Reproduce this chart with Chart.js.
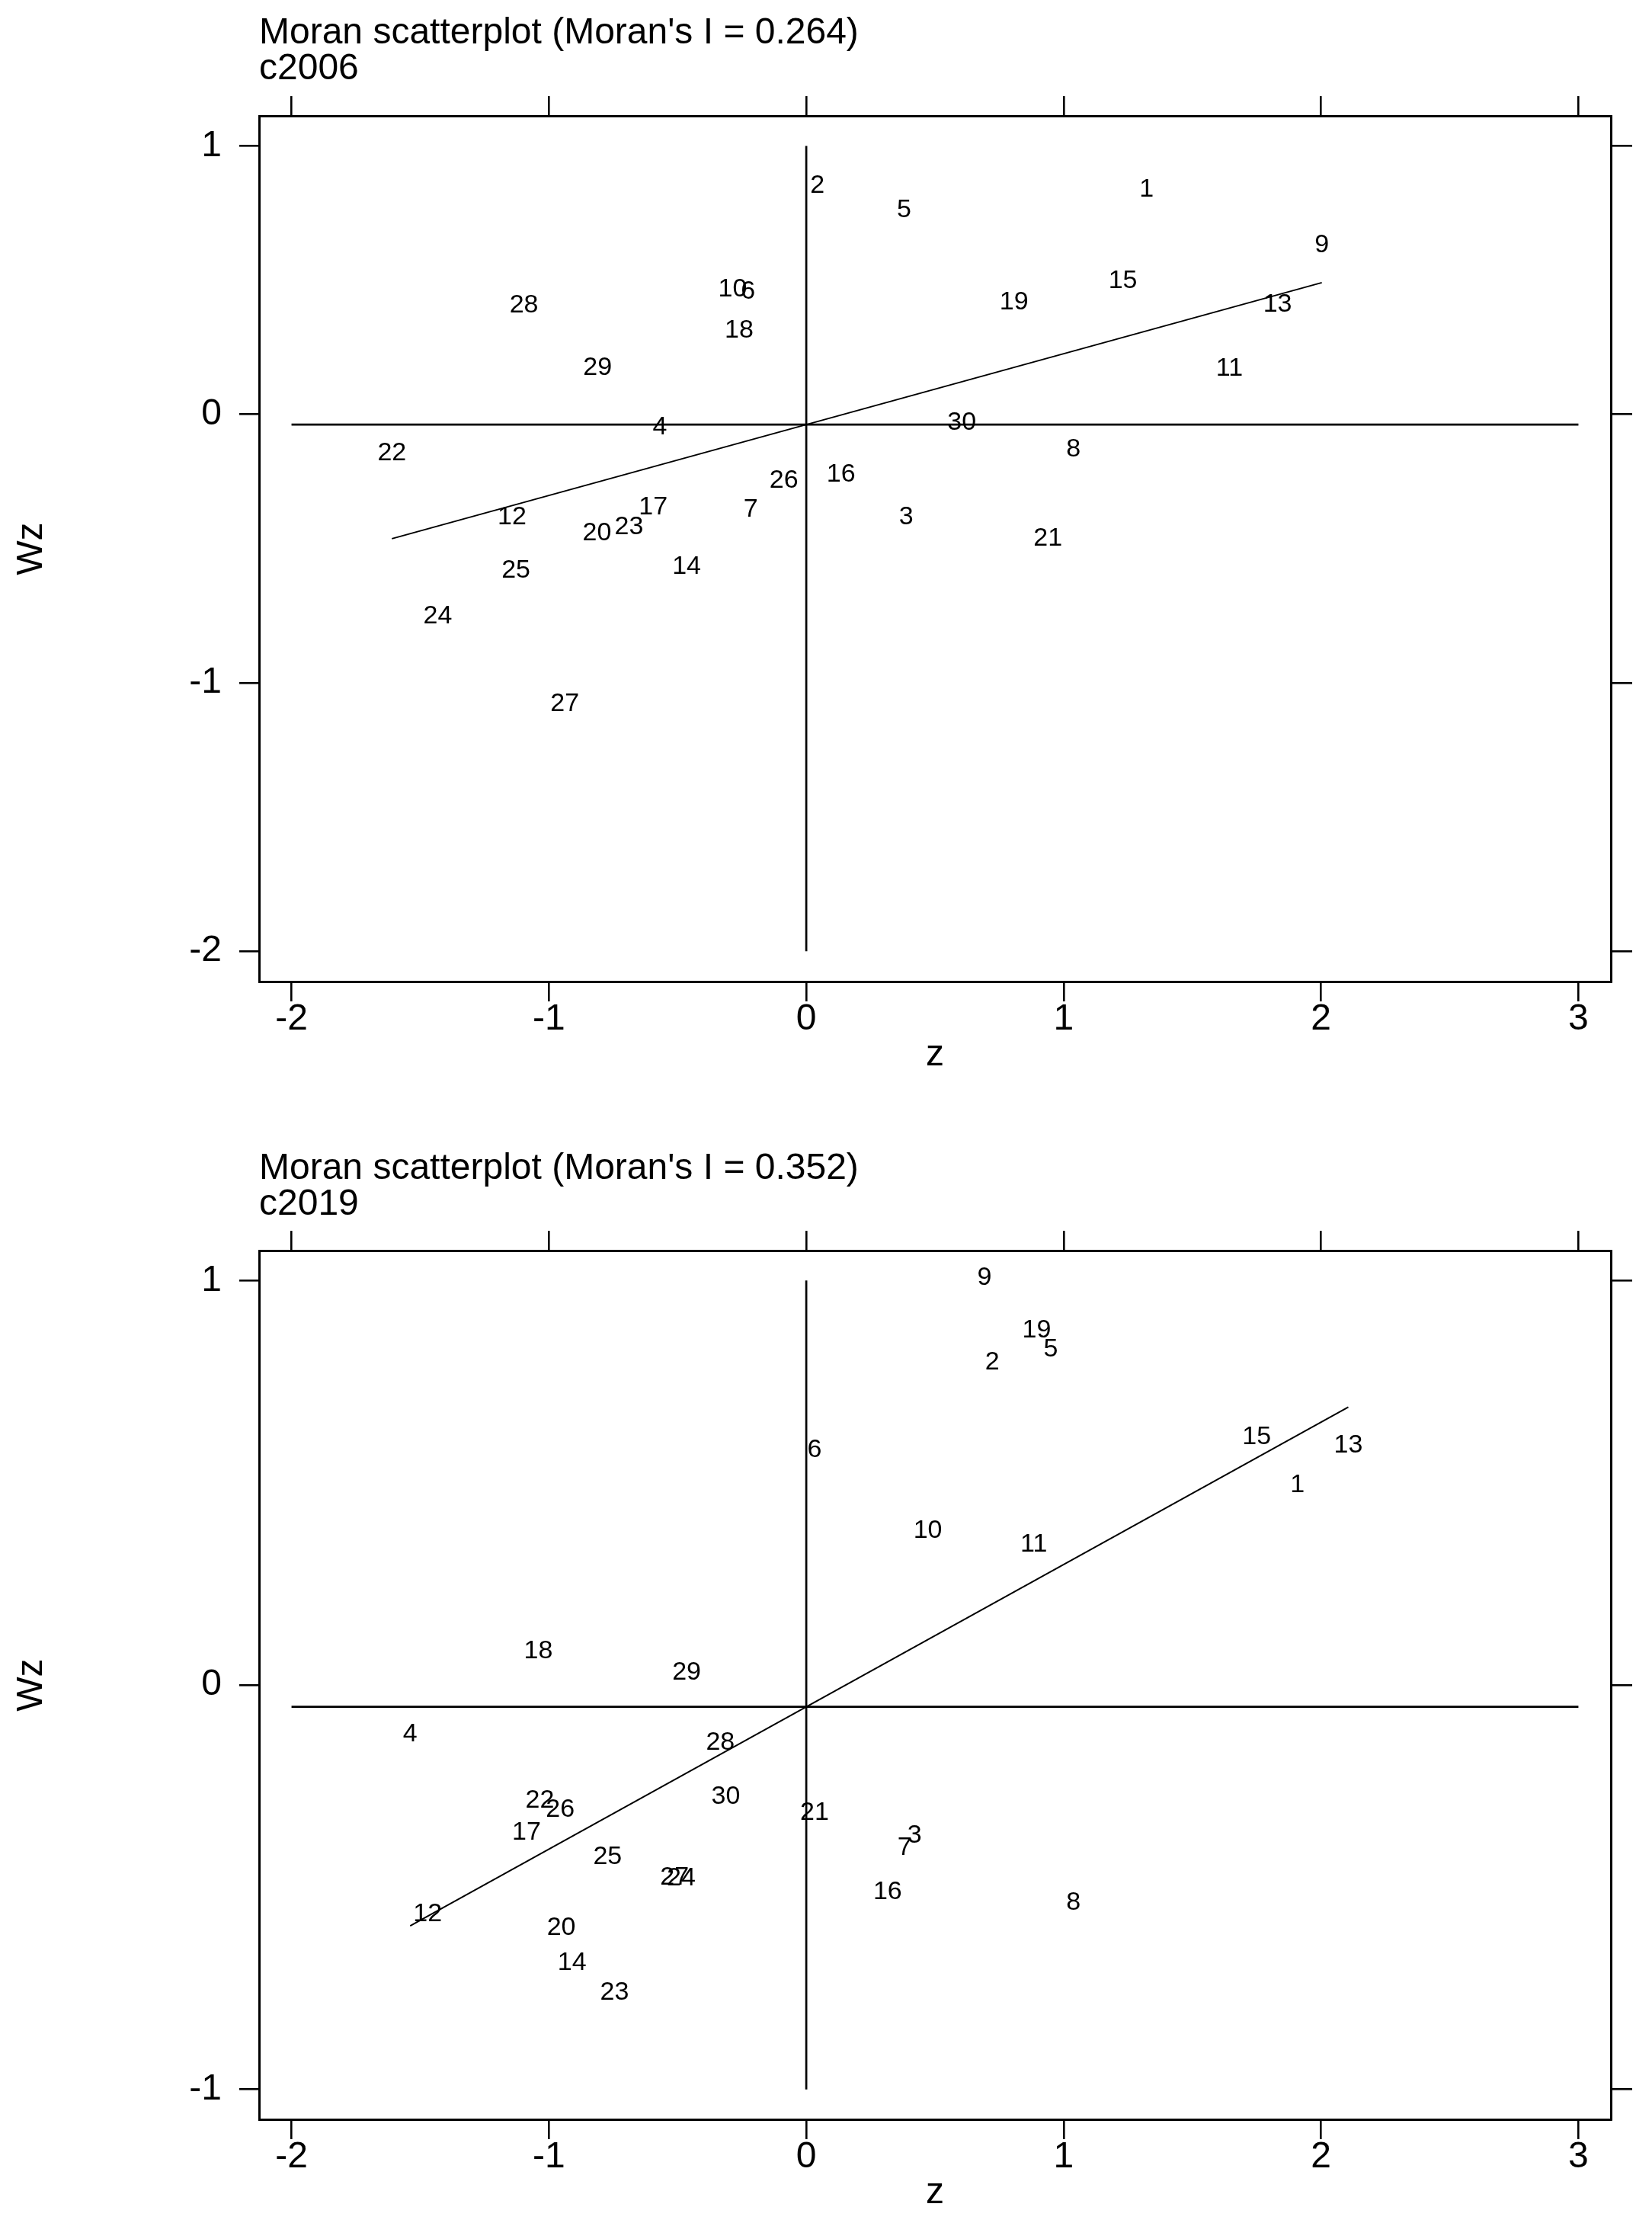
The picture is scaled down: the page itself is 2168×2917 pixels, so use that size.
<!DOCTYPE html>
<html>
<head>
<meta charset="utf-8">
<title>Moran scatterplots c2006 / c2019</title>
<script src="https://cdn.jsdelivr.net/npm/chart.js@4/dist/chart.umd.min.js"></script>
<style>
  html, body { margin: 0; padding: 0; background: #fff; }
  #wrap { position: relative; width: 2168px; height: 2917px; }
  .panel { position: absolute; left: 0; width: 2168px; }
  #p2006 { top: 0; height: 1488px; }
  #p2019 { top: 1488px; height: 1429px; }
</style>
</head>
<body>
<div id="wrap">
  <div class="panel" id="p2006"><canvas id="chart2006"></canvas></div>
  <div class="panel" id="p2019"><canvas id="chart2019"></canvas></div>
</div>
<script>
// ================================
// Datos
// ================================
const regionIds = ["1","2","3","4","5","6","7","8","9","10","11","12","13","14","15",
                   "16","17","18","19","20","21","22","23","24","25","26","27","28","29","30"];

// c2006
const z2006 = [1.322, 0.043, 0.388, -0.569, 0.380, -0.226, -0.216, 1.038, 2.003, -0.286,
               1.644, -1.143, 1.831, -0.465, 1.230, 0.135, -0.595, -0.261, 0.807, -0.813,
               0.939, -1.610, -0.689, -1.432, -1.128, -0.087, -0.938, -1.097, -0.811, 0.604];
const wz2006 = [0.808, 0.821, -0.414, -0.079, 0.729, 0.427, -0.385, -0.161, 0.598, 0.434,
                0.140, -0.414, 0.377, -0.598, 0.465, -0.256, -0.376, 0.282, 0.386, -0.474,
                -0.495, -0.177, -0.451, -0.784, -0.614, -0.278, -1.110, 0.374, 0.142, -0.063];
const moranI2006 = 0.264;
const wzMean2006 = -0.038;

// c2019
const z2019 = [1.908, 0.723, 0.421, -1.539, 0.950, 0.032, 0.382, 1.038, 0.692, 0.472,
               0.884, -1.471, 2.106, -0.910, 1.750, 0.316, -1.087, -1.041, 0.895, -0.952,
               0.032, -1.035, -0.745, -0.486, -0.772, -0.956, -0.512, -0.334, -0.465, -0.313];
const wz2019 = [0.473, 0.777, -0.393, -0.143, 0.810, 0.561, -0.423, -0.558, 0.986, 0.361,
                0.327, -0.587, 0.572, -0.707, 0.592, -0.532, -0.385, 0.063, 0.856, -0.621,
                -0.337, -0.307, -0.781, -0.499, -0.445, -0.329, -0.496, -0.163, 0.010, -0.297];
const moranI2019 = 0.352;
const wzMean2019 = -0.054;

const zMean = 0;
const xTicks = [-2, -1, 0, 1, 2, 3];
const yTicks2006 = [-2, -1, 0, 1];
const yTicks2019 = [-1, 0, 1];

// ================================
// Estilo
// ================================
const FONT = "'Liberation Sans', Arial, Helvetica, sans-serif";
Chart.defaults.font.family = FONT;
Chart.defaults.color = "#000";

// etiquetas de región en lugar de marcadores
const idLabels = {
  id: "idLabels",
  afterDatasetsDraw(chart) {
    const meta = chart.getDatasetMeta(0);
    const ctx = chart.ctx;
    ctx.save();
    ctx.fillStyle = "#000";
    ctx.font = "34px " + FONT;
    ctx.textAlign = "center";
    ctx.textBaseline = "middle";
    meta.data.forEach((pt, i) => ctx.fillText(regionIds[i], pt.x, pt.y - 11));
    ctx.restore();
  }
};

function tickList(values) {
  return scale => { scale.ticks = values.map(v => ({ value: v })); };
}

function lineSet(points, width) {
  return {
    data: points,
    showLine: true,
    borderColor: "#000",
    borderWidth: width,
    pointRadius: 0,
    pointHoverRadius: 0,
    fill: false
  };
}

function makeChart(canvasId, cfg) {
  const { name, z, wz, moranI, wzMean, yTicks, yMin, yMax, padTop, padBottom, titleGap } = cfg;
  const pts = z.map((v, i) => ({ x: v, y: wz[i] }));
  const zMin = Math.min(...z), zMax = Math.max(...z);
  const xMin = -2.126, xMax = 3.126;

  const axisGrid = len => ({
    drawOnChartArea: false, drawTicks: true, tickLength: len,
    color: "#000", lineWidth: 2.6
  });
  const border = { display: true, color: "#000", width: 3 };

  return new Chart(document.getElementById(canvasId), {
    type: "scatter",
    data: {
      datasets: [
        { data: pts, pointRadius: 0, pointHoverRadius: 0, showLine: false },
        // recta de regresión (pendiente = I de Moran)
        lineSet([{ x: zMin, y: wzMean + moranI * zMin }, { x: zMax, y: wzMean + moranI * zMax }], 2),
        // líneas de medias
        lineSet([{ x: xTicks[0], y: wzMean }, { x: xTicks[xTicks.length - 1], y: wzMean }], 2.7),
        lineSet([{ x: zMean, y: yTicks[yTicks.length - 1] }, { x: zMean, y: yTicks[0] }], 2.7)
      ]
    },
    options: {
      responsive: true,
      maintainAspectRatio: false,
      devicePixelRatio: 1,
      animation: false,
      events: [],
      layout: { padding: { top: padTop, right: 26, bottom: padBottom, left: 0 } },
      plugins: {
        legend: { display: false },
        tooltip: { enabled: false },
        title: {
          display: true,
          text: ["Moran scatterplot (Moran's I = " + moranI.toFixed(3) + ")", name],
          align: "start",
          fullSize: false,
          color: "#000",
          font: { size: 48, weight: "normal", lineHeight: 0.98 },
          padding: { top: 0, bottom: titleGap }
        }
      },
      scales: {
        x: {
          type: "linear", position: "bottom", min: xMin, max: xMax,
          afterBuildTicks: tickList(xTicks),
          grid: axisGrid(26), border,
          ticks: { color: "#000", font: { size: 48, lineHeight: 1 }, padding: 0,
                   maxRotation: 0, autoSkip: false, callback: v => String(v) },
          title: { display: true, text: "z", color: "#000",
                   font: { size: 48, lineHeight: 1 }, padding: { top: 0, bottom: 9 } },
          afterFit: s => { s.height = 130; }
        },
        x2: {
          type: "linear", axis: "x", position: "top", min: xMin, max: xMax,
          afterBuildTicks: tickList(xTicks),
          grid: axisGrid(26), border,
          ticks: { display: false }
        },
        y: {
          type: "linear", position: "left", min: yMin, max: yMax,
          afterBuildTicks: tickList(yTicks),
          grid: axisGrid(26), border,
          ticks: { color: "#000", font: { size: 48, lineHeight: 1 }, padding: 23,
                   autoSkip: false, callback: v => String(v) },
          title: { display: true, text: "Wz", color: "#000",
                   font: { size: 48, lineHeight: 1 }, padding: { top: 18, bottom: 0 } },
          afterFit: s => { s.width = 340; }
        },
        y2: {
          type: "linear", axis: "y", position: "right", min: yMin, max: yMax,
          afterBuildTicks: tickList(yTicks),
          grid: axisGrid(28), border,
          ticks: { display: false }
        }
      }
    },
    plugins: [idLabels]
  });
}

makeChart("chart2006", {
  name: "c2006", z: z2006, wz: wz2006, moranI: moranI2006, wzMean: wzMean2006,
  yTicks: yTicks2006, yMin: -2.113, yMax: 1.112, padTop: 20, padBottom: 70, titleGap: 12
});

makeChart("chart2019", {
  name: "c2019", z: z2019, wz: wz2019, moranI: moranI2019, wzMean: wzMean2019,
  yTicks: yTicks2019, yMin: -1.074, yMax: 1.074, padTop: 22, padBottom: 6, titleGap: 11
});
</script>
</body>
</html>
